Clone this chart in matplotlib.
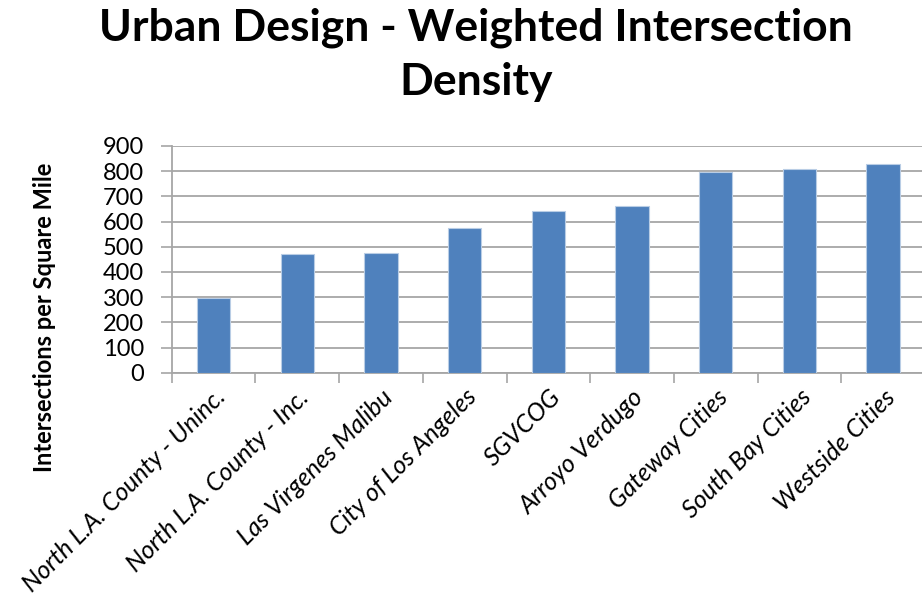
import matplotlib
matplotlib.use("Agg")
import matplotlib.pyplot as plt
import numpy as np

categories = ["North L.A. County - Uninc.", "North L.A. County - Inc.", "Las Virgenes Malibu",
              "City of Los Angeles", "SGVCOG", "Arroyo Verdugo", "Gateway Cities",
              "South Bay Cities", "Westside Cities"]
values = [298, 470, 475, 576, 642, 662, 796, 809, 830]
yticks = [0, 100, 200, 300, 400, 500, 600, 700, 800, 900]

plt.rcParams['font.family'] = ['Lato', 'DejaVu Sans']

fig = plt.figure(figsize=(9.22, 6.07), dpi=100)
ax = fig.add_axes([171.7/922, 234.3/607, (925-171.7)/922, (461-234.3)/607])

x = np.arange(len(categories))
ax.bar(x, values, width=0.4, color="#4F81BD", edgecolor="#B9CDE5", linewidth=0.8, zorder=3)

ax.set_xlim(-0.5, len(categories) - 0.5)
ax.set_ylim(0, 900)
ax.set_yticks(yticks)
ax.set_yticklabels([str(v) for v in yticks], fontsize=17, color="#000000")
ax.yaxis.grid(True, color="#A6A6A6", linewidth=1.3, zorder=0)
ax.tick_params(axis='y', length=8, width=1.2, color="#A6A6A6", pad=12)

ax.set_xticks(x)
ax.set_xticklabels(categories, rotation=45, ha='right', va='top', rotation_mode='anchor',
                   fontsize=18, style='italic')
ax.tick_params(axis='x', which='major', length=0, pad=9)
ax.set_xticks(np.arange(len(categories) + 1) - 0.5, minor=True)
ax.tick_params(axis='x', which='minor', length=7, width=1.2, color="#A6A6A6")

for s in ['top', 'right']:
    ax.spines[s].set_visible(False)
for s in ['left', 'bottom']:
    ax.spines[s].set_color("#A6A6A6")
    ax.spines[s].set_linewidth(1.3)

fig.text(45/922, 1 - 317/607, "Intersections per Square Mile", rotation=90, ha='center', va='center',
         fontsize=17, fontweight='bold')

fig.text(476/922, 1 - 8/607, "Urban Design - Weighted Intersection\nDensity", ha='center', va='top',
         fontsize=32, fontweight='bold', linespacing=1.4)

fig.savefig("out.png", dpi=100)
